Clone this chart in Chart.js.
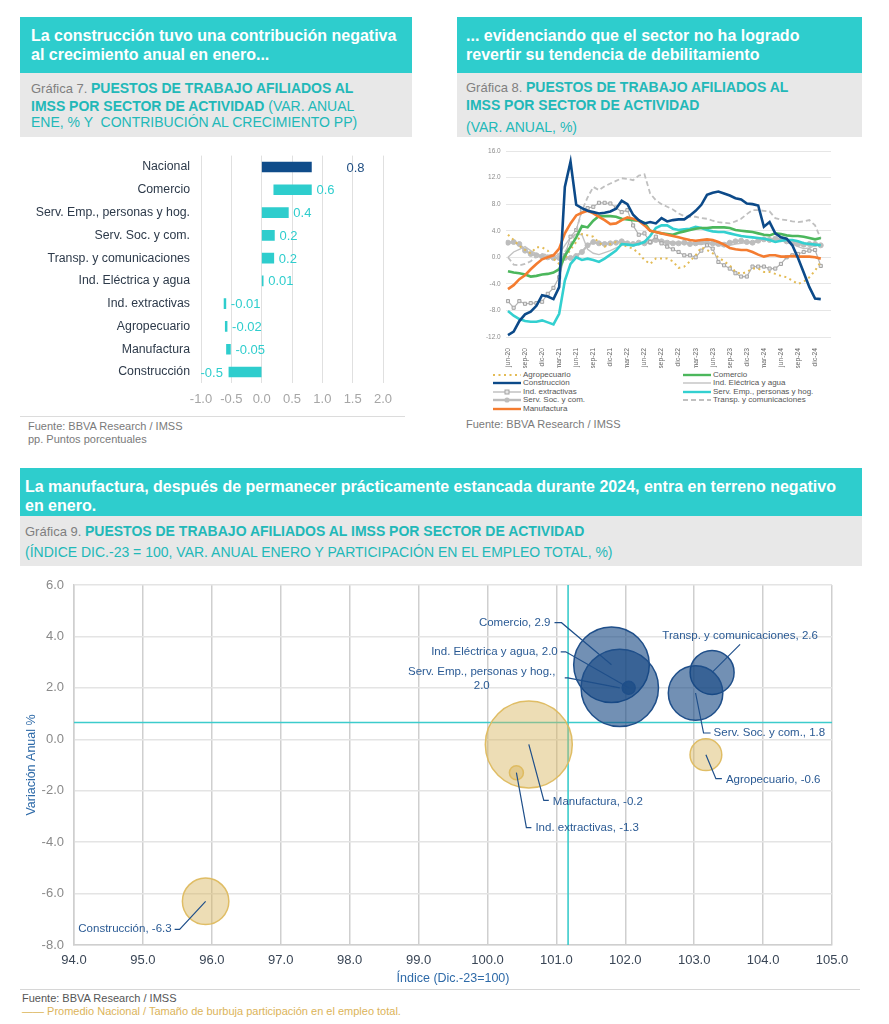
<!DOCTYPE html>
<html lang="es">
<head>
<meta charset="utf-8">
<script src="https://cdn.jsdelivr.net/npm/chart.js@4.4.0/dist/chart.umd.min.js"></script>
<style>
  body { margin: 0; width: 889px; height: 1024px; background: #fff; position: relative; overflow: hidden;
         font-family: "Liberation Sans", Arial, sans-serif; }
  .abs { position: absolute; }
  .hd { background: #2ecdcd; color: #fff; font-weight: bold; font-size: 16px; line-height: 18.5px; white-space: nowrap; box-sizing: border-box; }
  .sub { background: #e8e8e8; color: #22b8b8; font-size: 14px; line-height: 16.5px; white-space: nowrap; box-sizing: border-box; }
  .sub .g { color: #7f7f7f; font-size: 13px; }
  .src { color: #7a7a7a; font-size: 11px; line-height: 13px; white-space: nowrap; }
  .leg { font-size: 8px; color: #555; white-space: nowrap; line-height: 8px; }
  .leg svg { position: absolute; left: 0; top: 0; }
</style>
</head>
<body>

<!-- Gráfica 7 -->
<div class="abs hd" style="left:20px;top:17px;width:392px;height:56px;padding:10px 0 0 11px;">La construcción tuvo una contribución negativa<br>al crecimiento anual en enero...</div>
<div class="abs sub" style="left:20px;top:73px;width:392px;height:64px;padding:7px 0 0 11px;"><span class="g">Gráfica 7. </span><b>PUESTOS DE TRABAJO AFILIADOS AL<br>IMSS POR SECTOR DE ACTIVIDAD</b> (VAR. ANUAL<br>ENE, % Y &nbsp;CONTRIBUCIÓN AL CRECIMIENTO PP)</div>
<div class="abs" style="left:20px;top:150px;width:390px;height:264px;"><canvas id="barChart"></canvas></div>
<div class="abs" style="left:20px;top:416px;width:385px;height:1px;background:#dcdcdc;"></div>
<div class="abs src" style="left:28px;top:420px;">Fuente: BBVA Research / IMSS<br>pp. Puntos porcentuales</div>

<!-- Gráfica 8 -->
<div class="abs hd" style="left:457px;top:17px;width:405px;height:56px;padding:10px 0 0 9px;">... evidenciando que el sector no ha logrado<br>revertir su tendencia de debilitamiento</div>
<div class="abs sub" style="left:457px;top:73px;width:405px;height:64px;padding:6px 0 0 9px;"><span class="g">Gráfica 8. </span><b>PUESTOS DE TRABAJO AFILIADOS AL<br>IMSS POR SECTOR DE ACTIVIDAD</b><div style="margin-top:6px;">(VAR. ANUAL, %)</div></div>
<div class="abs" style="left:462px;top:143px;width:374px;height:225px;"><canvas id="lineChart"></canvas></div>
<div id="lineLegend"></div>
<div class="abs src" style="left:466px;top:418px;">Fuente: BBVA Research / IMSS</div>

<!-- Gráfica 9 -->
<div class="abs hd" style="left:20px;top:468px;width:842px;height:48px;padding:9px 0 0 5px;line-height:19px;">La manufactura, después de permanecer prácticamente estancada durante 2024, entra en terreno negativo<br>en enero.</div>
<div class="abs sub" style="left:20px;top:516px;width:842px;height:50px;padding:5px 0 0 5px;line-height:21px;"><span class="g">Gráfica 9. </span><b>PUESTOS DE TRABAJO AFILIADOS AL IMSS POR SECTOR DE ACTIVIDAD</b><br>(ÍNDICE DIC.-23 = 100, VAR. ANUAL ENERO Y PARTICIPACIÓN EN EL EMPLEO TOTAL, %)</div>
<!-- bubble canvas is taller/wider than the plot: chart.js keeps a margin as big as the largest bubble -->
<div class="abs" style="left:20px;top:540px;width:857px;height:450px;"><canvas id="bubbleChart"></canvas></div>
<div class="abs" style="left:20px;top:989px;width:840px;height:1px;background:#d6d6d6;"></div>
<div class="abs src" style="left:22px;top:992px;color:#555;">Fuente: BBVA Research / IMSS</div>
<div class="abs src" style="left:22px;top:1005px;color:#dcb45a;">—— Promedio Nacional / Tamaño de burbuja participación en el empleo total.</div>

<script>
// ---------- Gráfica 7: contribución al crecimiento (pp) ----------
const barCategories = ["Nacional", "Comercio", "Serv. Emp., personas y hog.", "Serv. Soc. y com.",
  "Transp. y comunicaciones", "Ind. Eléctrica y agua", "Ind. extractivas", "Agropecuario",
  "Manufactura", "Construcción"];
const barStart = [0, 0.2, 0, 0, 0, 0, -0.62, -0.60, -0.58, -0.54];
const barEnd = [0.82, 0.82, 0.44, 0.21, 0.2, 0.025, -0.59, -0.57, -0.515, 0];
const barLabels = ["0.8", "0.6", "0.4", "0.2", "0.2", "0.01", "-0.01", "-0.02", "-0.05", "-0.5"];
const barTicks = [-1.0, -0.5, 0.0, 0.5, 1.0, 1.5, 2.0];

// ---------- Gráfica 8: var. anual % por sector ----------
const months = ["jun-20","jul-20","ago-20","sep-20","oct-20","nov-20","dic-20",
  "ene-21","feb-21","mar-21","abr-21","may-21","jun-21","jul-21","ago-21","sep-21","oct-21","nov-21","dic-21",
  "ene-22","feb-22","mar-22","abr-22","may-22","jun-22","jul-22","ago-22","sep-22","oct-22","nov-22","dic-22",
  "ene-23","feb-23","mar-23","abr-23","may-23","jun-23","jul-23","ago-23","sep-23","oct-23","nov-23","dic-23",
  "ene-24","feb-24","mar-24","abr-24","may-24","jun-24","jul-24","ago-24","sep-24","oct-24","nov-24","dic-24",
  "ene-25"];
const agropecuario = [3.4, 2.6, 1.7, 1.1, 0.6, 1.5, 1.5, 1.0, -0.2, -1.0,
  -0.3, 1.2, 2.3, 3.5, 3.3, 3.1, 2.2, 1.6, 2.0, 2.3,
  1.9, 1.6, 1.3, 0.6, -0.4, -1.0, -0.2, -0.2, -0.2, -0.6,
  -1.6, -1.4, -0.6, 0.3, 1.5, 1.1, 0.6, 0.0, -0.6, -1.2,
  -2.2, -2.5, -2.2, -1.7, -1.7, -2.2, -2.2, -2.5, -2.8, -3.0,
  -3.5, -4.0, -3.7, -3.0, -2.0, -0.7];
const construccion = [-11.7, -11.2, -9.6, -8.6, -8.2, -7.3, -5.7, -5.9, -6.3, -4.5,
  10.6, 14.4, 7.9, 7.4, 7.0, 6.8, 6.6, 6.7, 6.9, 7.3,
  8.5, 8.0, 6.4, 5.6, 5.1, 5.3, 5.1, 5.9, 5.4, 5.6,
  5.7, 5.7, 6.3, 7.0, 7.9, 9.4, 9.7, 9.9, 9.6, 9.3,
  8.9, 8.7, 8.1, 8.0, 7.8, 4.6, 5.3, 3.6, 3.0, 2.8,
  1.8, -0.1, -2.3, -4.5, -6.2, -6.3];
const indExtractivas = [-6.6, -7.6, -6.6, -7.0, -6.9, -6.9, -6.7, -5.5, -4.6, -3.0,
  0.3, 3.1, 4.1, 7.1, 7.4, 7.6, 8.2, 8.2, 8.1, 7.5,
  6.8, 7.1, 4.8, 3.4, 3.6, 2.3, 3.1, 2.1, 1.6, 1.2,
  0.8, 0.3, 0.3, 0.0, 1.0, 1.8, 1.3, -0.7, -1.2, -1.7,
  -2.4, -2.9, -2.9, -1.4, -1.4, -1.4, -1.7, -1.7, -1.0, 0.0,
  0.3, 0.5, 0.8, 1.0, 1.1, -1.3];
const servSoc = [2.2, 2.3, 2.0, 1.0, 0.5, 0.3, 0.1, 0.0, -0.1, -0.1,
  -0.1, -0.1, 0.2, 0.8, 1.8, 2.3, 2.1, 2.0, 2.1, 2.2,
  2.4, 2.1, 2.0, 2.2, 2.1, 2.3, 2.6, 2.4, 2.2, 2.1,
  2.1, 2.2, 2.0, 2.1, 2.3, 2.2, 2.1, 2.0, 1.9, 2.2,
  2.4, 2.5, 2.3, 2.2, 2.5, 2.7, 2.6, 2.8, 2.7, 2.4,
  2.2, 2.0, 1.9, 2.0, 2.0, 1.8];
const manufactura = [-4.8, -4.2, -3.3, -2.7, -1.8, -1.0, -0.3, 0.0, 0.3, 1.3,
  3.6, 5.1, 6.3, 6.7, 7.0, 6.6, 6.1, 5.6, 5.0, 5.1,
  5.6, 6.0, 5.8, 5.5, 4.8, 4.0, 3.8, 3.6, 3.4, 3.2,
  3.0, 2.8, 2.6, 2.5, 2.6, 2.7, 2.6, 2.3, 1.9, 1.4,
  1.2, 1.1, 1.1, 0.8, 0.4, 0.1, 0.3, 0.3, 0.1, 0.1,
  0.2, 0.1, 0.1, 0.1, 0.0, -0.2];
const comercio = [-2.1, -2.3, -2.4, -2.6, -2.9, -2.8, -2.6, -2.5, -2.3, -1.8,
  0.2, 1.6, 3.0, 4.7, 4.5, 5.5, 6.2, 6.2, 6.2, 6.1,
  5.8, 5.7, 5.6, 5.5, 5.2, 4.0, 3.8, 3.6, 3.5, 3.4,
  3.7, 3.9, 4.1, 4.3, 4.4, 4.4, 4.5, 4.5, 4.5, 4.4,
  4.1, 4.0, 3.9, 3.8, 3.6, 3.4, 3.3, 3.6, 3.5, 3.3,
  3.2, 3.2, 3.1, 2.9, 2.7, 2.9];
const indElectrica = [0.0, 0.8, 1.2, 1.6, 1.0, 0.5, 0.2, -0.2, 0.0, 0.5,
  1.8, 3.0, 3.5, 3.4, 1.2, 0.6, 0.4, 0.7, 1.0, 1.4,
  1.8, 2.0, 1.9, 2.1, 2.3, 2.4, 2.6, 2.5, 2.4, 2.3,
  2.2, 2.3, 2.2, 2.0, 1.9, 2.1, 2.0, 1.8, 1.7, 1.8,
  2.0, 2.1, 2.2, 2.3, 2.5, 2.8, 2.9, 2.7, 2.5, 2.2,
  2.0, 1.6, 1.3, 1.4, 1.8, 2.0];
const servEmp = [-8.1, -8.8, -9.3, -9.6, -9.7, -9.7, -9.5, -9.8, -10.1, -8.5,
  -3.5, -1.0, 0.0, -0.4, -0.2, -0.4, -0.7, -0.2, 0.4, 1.0,
  2.0, 1.9, 1.8, 2.0, 2.3, 3.2, 4.4, 4.8, 4.8, 4.3,
  4.1, 4.2, 4.3, 4.6, 4.4, 4.1, 3.9, 3.8, 3.8, 3.6,
  3.4, 3.2, 3.1, 3.0, 2.9, 2.8, 2.6, 2.3, 2.5, 2.6,
  2.6, 2.4, 2.1, 2.0, 1.9, 1.8];
const transporte = [0.0, -1.1, -1.2, -1.0, -0.6, 0.1, 0.5, 0.3, 0.4, 0.5,
  0.8, 2.0, 4.0, 7.0, 9.0, 10.6, 10.1, 10.7, 11.1, 11.5,
  11.9, 11.8, 11.6, 12.3, 12.5, 9.6, 8.6, 8.0, 7.6, 7.2,
  6.6, 6.2, 6.1, 6.1, 5.9, 5.8, 5.5, 5.3, 5.2, 5.1,
  5.4, 5.8, 6.5, 7.1, 7.1, 7.0, 6.9, 5.9, 5.7, 5.6,
  5.4, 5.3, 5.4, 5.6, 4.8, 2.8];

// ---------- Gráfica 9: índice vs var. anual, burbuja = participación ----------
const bubbleNames = ["Comercio", "Serv. Emp., personas y hog.", "Ind. Eléctrica y agua",
  "Transp. y comunicaciones", "Serv. Soc. y com.", "Agropecuario", "Manufactura",
  "Ind. extractivas", "Construcción"];
const bubbleIndice = [101.8, 101.92, 102.05, 103.26, 103.02, 103.17, 100.6, 100.42, 95.91];
const bubbleVariacion = [2.9, 2.0, 2.0, 2.6, 1.8, -0.6, -0.2, -1.3, -6.3];
const bubbleParticipacion = [20.4, 21.4, 0.6, 6.9, 10.6, 3.6, 27.0, 0.7, 7.7];
const promedioIndice = 101.17;
const promedioVariacion = 0.65;

const FONT = '"Liberation Sans", Arial, sans-serif';
Chart.defaults.font.family = FONT;
Chart.defaults.animation = false;

// fixed axis box sizes, no extra label padding
function fixBox(size) {
  return s => {
    if (s.isHorizontal()) s.height = size; else s.width = size;
    s.paddingTop = 0; s.paddingBottom = 0; s.paddingLeft = 0; s.paddingRight = 0;
  };
}

// ---- bar chart ----
const barLabelPlugin = {
  id: "barLabelPlugin",
  afterDatasetsDraw(chart) {
    const ctx = chart.ctx;
    const meta = chart.getDatasetMeta(0);
    ctx.save();
    ctx.font = "13px " + FONT;
    ctx.textBaseline = "middle";
    meta.data.forEach((bar, i) => {
      const lo = Math.min(bar.x, bar.base), hi = Math.max(bar.x, bar.base);
      const txt = barLabels[i];
      ctx.fillStyle = i === 0 ? "#1f4e82" : "#2ecdcd";
      if (parseFloat(txt) <= -0.1) {
        ctx.textAlign = "right";
        ctx.fillText(txt, lo - 6, bar.y + 1);
      } else {
        ctx.textAlign = "left";
        ctx.fillText(txt, hi + (i === 0 ? 35 : 5), bar.y + 1);
      }
    });
    ctx.restore();
  }
};

new Chart(document.getElementById("barChart"), {
  type: "bar",
  data: {
    labels: barCategories,
    datasets: [{
      data: barStart.map((s, i) => [s, barEnd[i]]),
      backgroundColor: barCategories.map((c, i) => i === 0 ? "#0f4c8a" : "#2ecdcd"),
      barThickness: 10
    }]
  },
  options: {
    indexAxis: "y",
    responsive: true,
    maintainAspectRatio: false,
    layout: { padding: { top: 5.6, right: 27, left: 0, bottom: 0 } },
    plugins: { legend: { display: false }, tooltip: { enabled: false } },
    scales: {
      x: {
        min: barTicks[0], max: barTicks[barTicks.length - 1],
        afterFit: fixBox(30.6),
        afterBuildTicks: s => { s.ticks = barTicks.map(v => ({ value: v })); },
        grid: { color: "#e0e0e0", drawTicks: false },
        border: { display: false },
        ticks: { color: "#a6a6a6", font: { size: 13 }, padding: 8, callback: v => v.toFixed(1) }
      },
      y: {
        afterFit: fixBox(181),
        grid: { display: false, drawTicks: false },
        border: { display: false },
        ticks: { color: "#2d3a4a", font: { size: 12.3 }, padding: 11 }
      }
    }
  },
  plugins: [barLabelPlugin]
});

// ---- line chart ----
const lineSeries = [
  { name: "Agropecuario", data: agropecuario, color: "#e3bb55", width: 2, dash: [2, 3.5], order: 5 },
  { name: "Construcción", data: construccion, color: "#0c4a89", width: 2.6, order: 1 },
  { name: "Ind. extractivas", data: indExtractivas, color: "#b3b3b3", width: 1.2, point: "rect", order: 7 },
  { name: "Serv. Soc. y com.", data: servSoc, color: "#bdbdbd", width: 2.4, point: "circle", order: 8 },
  { name: "Manufactura", data: manufactura, color: "#f47c30", width: 2.6, order: 2 },
  { name: "Comercio", data: comercio, color: "#4cb75c", width: 2.6, order: 3 },
  { name: "Ind. Eléctrica y agua", data: indElectrica, color: "#c2c2c2", width: 1.4, order: 9 },
  { name: "Serv. Emp., personas y hog.", data: servEmp, color: "#33d0d0", width: 2.6, order: 4 },
  { name: "Transp. y comunicaciones", data: transporte, color: "#c0c0c0", width: 1.8, dash: [5, 3], order: 6 }
];

new Chart(document.getElementById("lineChart"), {
  type: "line",
  data: {
    datasets: lineSeries.map(s => ({
      label: s.name,
      data: s.data.map((v, i) => ({ x: i, y: v })),
      borderColor: s.color,
      borderWidth: s.width,
      borderDash: s.dash || [],
      order: s.order,
      tension: 0,
      pointStyle: s.point || "circle",
      pointRadius: s.point === "rect" ? 2.2 : (s.point ? 2.5 : 0),
      pointBackgroundColor: s.point === "rect" ? "#e6e6e6" : s.color,
      pointBorderColor: s.point === "rect" ? "#a3a3a3" : s.color,
      pointBorderWidth: 1
    }))
  },
  options: {
    responsive: true,
    maintainAspectRatio: false,
    layout: { padding: { top: 8, right: 5, left: 0, bottom: 0 } },
    plugins: { legend: { display: false }, tooltip: { enabled: false } },
    scales: {
      x: {
        type: "linear", min: -0.4, max: 56.8,
        afterFit: fixBox(31),
        grid: { display: false },
        border: { display: false },
        ticks: {
          stepSize: 3, includeBounds: false, autoSkip: false,
          maxRotation: 90, minRotation: 90, padding: 3,
          color: "#666", font: { size: 6.8 },
          callback: v => months[v] || ""
        }
      },
      y: {
        min: -12, max: 16,
        afterFit: fixBox(43.7),
        grid: { color: "#e6e6e6", drawTicks: false },
        border: { display: false },
        ticks: { stepSize: 4, color: "#8c8c8c", font: { size: 6.5 }, padding: 5, callback: v => v.toFixed(1) }
      }
    }
  }
});

// html legend, two columns
const legendCols = [
  { x: 493, names: ["Agropecuario", "Construcción", "Ind. extractivas", "Serv. Soc. y com.", "Manufactura"] },
  { x: 683, names: ["Comercio", "Ind. Eléctrica y agua", "Serv. Emp., personas y hog.", "Transp. y comunicaciones"] }
];
const legendRowsY = [375, 383, 391.5, 400, 408.5];
const legendBox = document.getElementById("lineLegend");
legendCols.forEach(col => {
  col.names.forEach((name, r) => {
    const s = lineSeries.find(d => d.name === name);
    const dash = s.dash ? `stroke-dasharray="${s.dash.join(" ")}"` : "";
    let mark = "";
    if (s.point === "rect") mark = `<rect x="12" y="2" width="4" height="4" fill="#e6e6e6" stroke="#a3a3a3" stroke-width="1"/>`;
    if (s.point === "circle") mark = `<circle cx="14" cy="4" r="2.6" fill="${s.color}"/>`;
    const div = document.createElement("div");
    div.className = "abs leg";
    div.style.left = col.x + "px";
    div.style.top = (legendRowsY[r] - 4) + "px";
    div.style.paddingLeft = "30px";
    div.innerHTML = `<svg width="28" height="8"><line x1="0" y1="4" x2="28" y2="4" stroke="${s.color}" stroke-width="${Math.min(s.width, 2.4)}" ${dash}/>${mark}</svg>${name}`;
    legendBox.appendChild(div);
  });
});

// ---- bubble chart ----
// leader-line layout, offsets in px from bubble centre
const bubbleLayout = [
  { ex: -50, ey: -42, sx: -57, tx: -61, ty: -42, align: "right" },
  { ex: -52, ey: -10, sx: -55, tx: -138, ty: -16, align: "center", wrap: true },
  { ex: -63, ey: -36, sx: -68, tx: -71, ty: -36, align: "right" },
  { ex: 28, ey: -28, sx: 28, tx: 28, ty: -37, align: "center" },
  { ex: 8, ey: 40, sx: 15, tx: 18, ty: 40, align: "left" },
  { ex: 10, ey: 24, sx: 16, tx: 20, ty: 25, align: "left" },
  { ex: 15, ey: 56, sx: 20, tx: 24, ty: 57, align: "left" },
  { ex: 10, ey: 55, sx: 15, tx: 19, ty: 55, align: "left" },
  { ex: -26, ey: 28, sx: -31, tx: -34, ty: 28, align: "right" }
];

const promedioPlugin = {
  id: "promedioPlugin",
  beforeDatasetsDraw(chart) {
    const { ctx, chartArea: a, scales } = chart;
    const px = scales.x.getPixelForValue(promedioIndice);
    const py = scales.y.getPixelForValue(promedioVariacion);
    ctx.save();
    ctx.strokeStyle = "#3ccccc";
    ctx.lineWidth = 1.6;
    ctx.beginPath();
    ctx.moveTo(px, a.top); ctx.lineTo(px, a.bottom);
    ctx.moveTo(a.left, py); ctx.lineTo(a.right, py);
    ctx.stroke();
    ctx.restore();
  }
};

const bubbleLabelPlugin = {
  id: "bubbleLabelPlugin",
  afterDatasetsDraw(chart) {
    const ctx = chart.ctx;
    const meta = chart.getDatasetMeta(0);
    ctx.save();
    ctx.font = "11.5px " + FONT;
    ctx.textBaseline = "middle";
    meta.data.forEach((pt, i) => {
      const L = bubbleLayout[i];
      const cx = pt.x, cy = pt.y;
      ctx.strokeStyle = "#1f4f8a";
      ctx.lineWidth = 1.2;
      ctx.beginPath();
      ctx.moveTo(cx, cy);
      ctx.lineTo(cx + L.ex, cy + L.ey);
      ctx.lineTo(cx + L.sx, cy + L.ey);
      ctx.stroke();
      ctx.fillStyle = "#2a5a94";
      ctx.textAlign = L.align;
      const val = bubbleVariacion[i].toFixed(1);
      const lines = L.wrap ? [bubbleNames[i] + ",", val] : [bubbleNames[i] + ", " + val];
      lines.forEach((t, k) => ctx.fillText(t, cx + L.tx, cy + L.ty + k * 14));
    });
    ctx.restore();
  }
};

const blueFill = "rgba(20,70,130,0.6)", blueLine = "#1f4f8a";
const goldFill = "rgba(215,180,90,0.45)", goldLine = "rgba(222,186,95,0.95)";

new Chart(document.getElementById("bubbleChart"), {
  type: "bubble",
  data: {
    datasets: [{
      data: bubbleIndice.map((x, i) => ({ x: x, y: bubbleVariacion[i], r: 8.37 * Math.sqrt(bubbleParticipacion[i]) })),
      backgroundColor: c => c.raw && c.raw.y < 0 ? goldFill : blueFill,
      borderColor: c => c.raw && c.raw.y < 0 ? goldLine : blueLine,
      borderWidth: 1.5
    }]
  },
  options: {
    responsive: true,
    maintainAspectRatio: false,
    layout: { padding: 0 },
    plugins: { legend: { display: false }, tooltip: { enabled: false } },
    scales: {
      x: {
        min: 94, max: 105,
        afterFit: fixBox(43),
        grid: { color: "#cfcfcf", lineWidth: 1.5, drawTicks: false },
        border: { color: "#cfcfcf", width: 1.5 },
        ticks: { stepSize: 1, color: "#3a4656", font: { size: 13 }, padding: 8, callback: v => v.toFixed(1) },
        title: { display: true, text: "Índice (Dic.-23=100)", color: "#2e6aa8", font: { size: 12.5 }, padding: { top: 0, bottom: 2 } }
      },
      y: {
        min: -8, max: 6,
        afterFit: fixBox(54),
        grid: { color: "#e4e4e4", lineWidth: 1.5, drawTicks: false },
        border: { color: "#cfcfcf", width: 1.5 },
        ticks: { stepSize: 2, color: "#8a8a8a", font: { size: 13 }, padding: 10, callback: v => v.toFixed(1) },
        title: { display: true, text: "Variación Anual %", color: "#2e6aa8", font: { size: 12.5 }, padding: { top: 4, bottom: 0 } }
      }
    }
  },
  plugins: [promedioPlugin, bubbleLabelPlugin]
});
</script>
</body>
</html>
